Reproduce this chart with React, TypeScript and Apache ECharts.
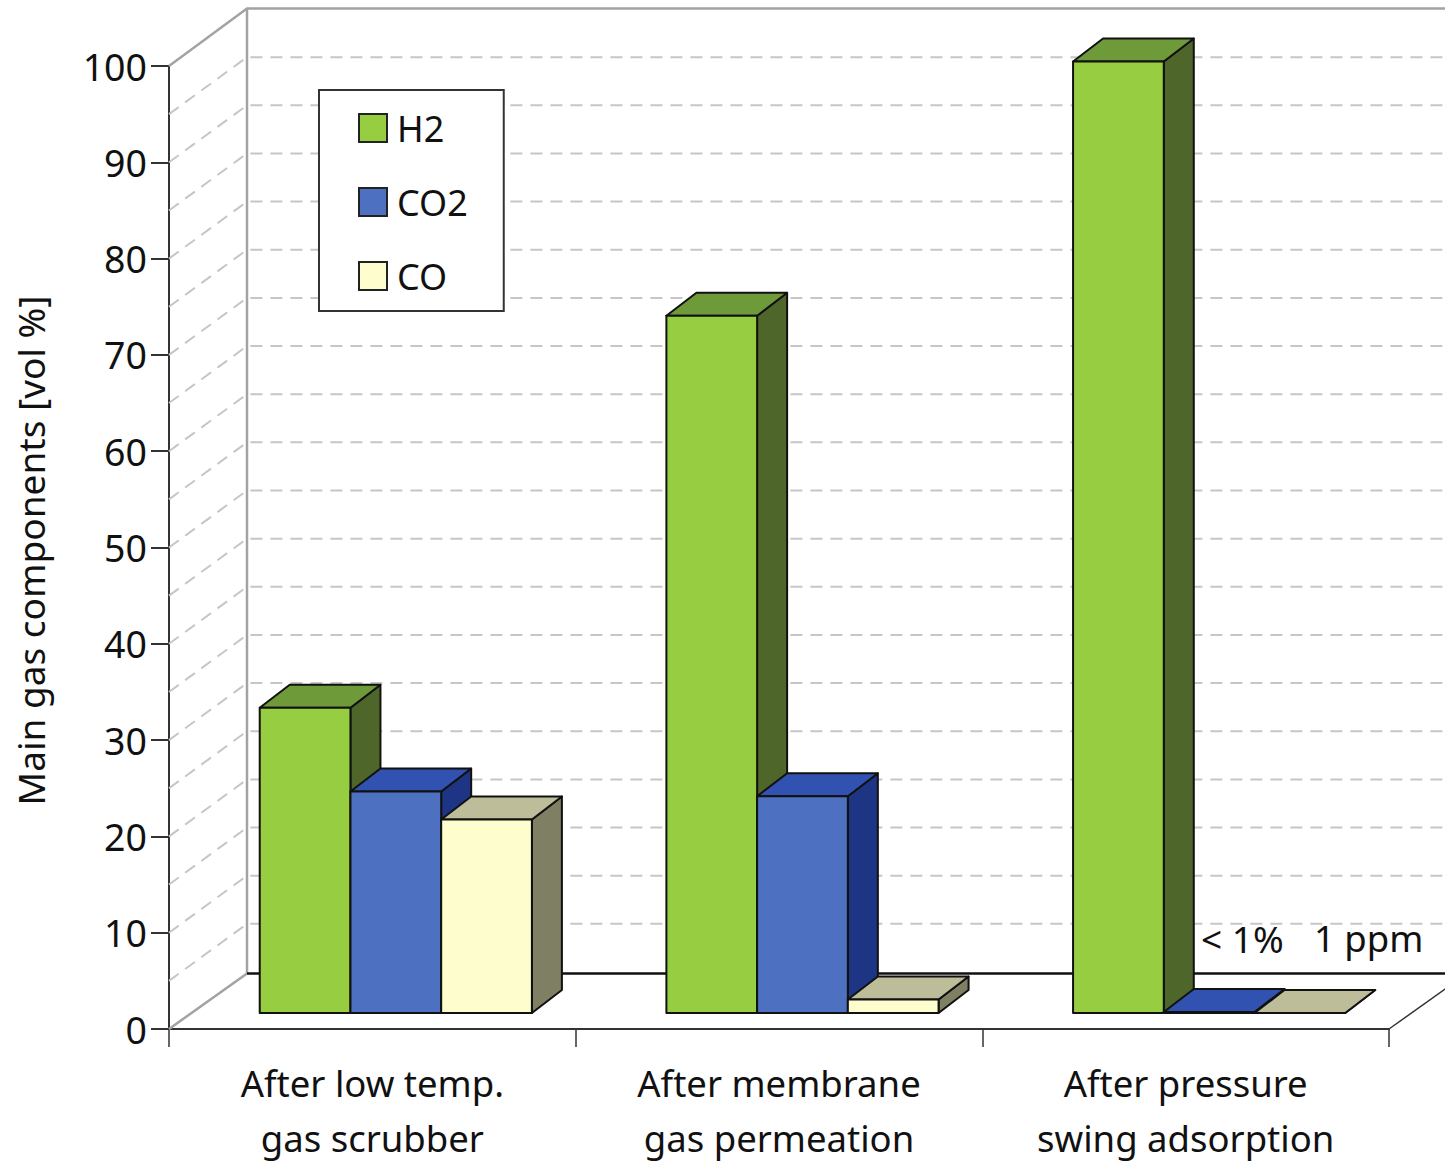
import React, { useEffect, useRef } from "react";
import * as echarts from "echarts";

const categories = ["After low temp.\ngas scrubber", "After membrane\ngas permeation", "After pressure\nswing adsorption"];
const seriesNames = ["H2", "CO2", "CO"];
const h2Values = [31.7, 72.4, 98.8];
const co2Values = [23.0, 22.5, 0.1];
const coValues = [20.1, 1.4, 0.0001];
const gridLevels = [5, 10, 15, 20, 25, 30, 35, 40, 45, 50, 55, 60, 65, 70, 75, 80, 85, 90, 95];
const frontColors = ["#97cd40", "#4d70c0", "#fdfdce"];
const sideColors = ["#4f662a", "#1d3584", "#7f7f63"];
const topColors = ["#6f9a3a", "#3152b0", "#bdbd9a"];
const annotations = ["< 1%", "1 ppm"];

const FONT = "Noto Sans";
const TEXT = "#111111";
const WALL_DX = 78;
const WALL_DY = -57;
const BACK_FLOOR_DY = -55.5;
const BAR_DX = 30;
const BAR_DY = -23;
const FLOOR_DY = -16;
const BAR_FRACTION = 90.8 / 407;

function barSeries(k: number, values: number[]) {
  return {
    type: "custom",
    name: seriesNames[k],
    itemStyle: { color: frontColors[k] },
    encode: { x: 0, y: 1 },
    z: 5 + k,
    data: values.map((v, i) => [i, v]),
    renderItem: (_: any, api: any) => {
      const band = api.size([1, 0])[0];
      const idx = api.value(0);
      const bandStart = api.coord([idx, 0])[0] - band / 2;
      const w = band * BAR_FRACTION;
      const x0 = bandStart + w * (k + 1);
      const x1 = x0 + w;
      const yb = api.coord([idx, 0])[1] + FLOOR_DY;
      const yt = api.coord([idx, api.value(1)])[1] + FLOOR_DY;
      const line = { stroke: "#111111", lineWidth: 2, lineJoin: "round" };
      return {
        type: "group",
        children: [
          {
            type: "polygon",
            shape: { points: [[x1, yb], [x1 + BAR_DX, yb + BAR_DY], [x1 + BAR_DX, yt + BAR_DY], [x1, yt]] },
            style: { fill: sideColors[k], ...line },
          },
          {
            type: "polygon",
            shape: { points: [[x0, yt], [x1, yt], [x1 + BAR_DX, yt + BAR_DY], [x0 + BAR_DX, yt + BAR_DY]] },
            style: { fill: topColors[k], ...line },
          },
          {
            type: "polygon",
            shape: { points: [[x0, yb], [x1, yb], [x1, yt], [x0, yt]] },
            style: { fill: frontColors[k], ...line },
          },
        ],
      };
    },
  };
}

const wallSeries = {
  type: "custom",
  name: "grid",
  silent: true,
  z: 1,
  encode: { x: 0, y: 1 },
  data: gridLevels.map((v) => [0, v]),
  renderItem: (params: any, api: any) => {
    const cs = params.coordSys;
    const y = api.coord([0, api.value(1)])[1];
    return {
      type: "polyline",
      shape: {
        points: [
          [cs.x, y],
          [cs.x + WALL_DX, y + WALL_DY],
          [cs.x + cs.width + WALL_DX, y + WALL_DY],
        ],
      },
      style: { fill: "none", stroke: "#c6c6c6", lineWidth: 2, lineDash: [12, 8] },
    };
  },
};

const frameSeries = {
  type: "custom",
  name: "frame",
  silent: true,
  z: 2,
  encode: { x: 0, y: 1 },
  data: [[0, 0]],
  renderItem: (params: any) => {
    const cs = params.coordSys;
    const l = cs.x;
    const r = cs.x + cs.width;
    const t = cs.y;
    const b = cs.y + cs.height;
    const gray = { fill: "none", stroke: "#a3a3a3", lineWidth: 2.5 };
    return {
      type: "group",
      children: [
        {
          type: "polyline",
          shape: { points: [[l, t], [l + WALL_DX, t + WALL_DY - 0.5], [r + WALL_DX, t + WALL_DY - 0.5]] },
          style: gray,
        },
        {
          type: "polyline",
          shape: { points: [[l + WALL_DX, t + WALL_DY - 0.5], [l + WALL_DX, b + BACK_FLOOR_DY]] },
          style: gray,
        },
        {
          type: "polyline",
          shape: { points: [[l, b], [l + WALL_DX, b + BACK_FLOOR_DY]] },
          style: gray,
        },
        {
          type: "polyline",
          shape: { points: [[l + WALL_DX, b + BACK_FLOOR_DY], [r + WALL_DX, b + BACK_FLOOR_DY]] },
          style: { fill: "none", stroke: "#111111", lineWidth: 2.5 },
        },
        {
          type: "polyline",
          shape: { points: [[r, b], [r + WALL_DX, b + BACK_FLOOR_DY]] },
          style: { fill: "none", stroke: "#333333", lineWidth: 1.5 },
        },
      ],
    };
  },
};

export default function App() {
  const ref = useRef<HTMLDivElement>(null);
  useEffect(() => {
    const chart = echarts.init(ref.current!, undefined, { renderer: "svg" });
    chart.setOption({
      animation: false,
      backgroundColor: "#ffffff",
      grid: { left: 169, right: 56, top: 66, bottom: 135, containLabel: false, outerBoundsMode: "none" },
      legend: {
        data: seriesNames,
        orient: "vertical",
        left: 319,
        top: 90,
        selectedMode: false,
        backgroundColor: "#ffffff",
        borderColor: "#333333",
        borderWidth: 2,
        borderRadius: 0,
        padding: [20, 36, 17, 39],
        itemGap: 38,
        itemWidth: 28,
        itemHeight: 28,
        icon: "rect",
        itemStyle: { borderColor: "#222222", borderWidth: 2 },
        textStyle: { fontFamily: FONT, fontSize: 36, color: TEXT, padding: [0, 0, 6, 5] },
        z: 20,
      },
      xAxis: {
        type: "category",
        data: categories,
        boundaryGap: true,
        axisLine: { lineStyle: { color: "#333333", width: 2 } },
        axisTick: { show: true, alignWithLabel: false, length: 18, lineStyle: { color: "#333333", width: 1.5 } },
        axisLabel: {
          interval: 0,
          margin: 26,
          fontFamily: FONT,
          fontSize: 36.5,
          color: TEXT,
          lineHeight: 55,
        },
      },
      yAxis: {
        type: "value",
        min: 0,
        max: 100,
        interval: 10,
        name: "Main gas components [vol %]",
        nameLocation: "middle",
        nameGap: 120,
        nameTextStyle: { fontFamily: FONT, fontSize: 37, color: TEXT, padding: [0, 6, 0, 0] },
        splitLine: { show: false },
        axisLine: { show: true, lineStyle: { color: "#333333", width: 2 } },
        axisTick: { show: true, length: 18, lineStyle: { color: "#333333", width: 2 } },
        axisLabel: { margin: 22, fontFamily: FONT, fontSize: 37.5, color: TEXT },
      },
      graphic: [
        { type: "text", x: 1201, y: 938, z: 30, style: { text: annotations[0], fontFamily: FONT, fontSize: 37, fill: TEXT, verticalAlign: "middle" } },
        { type: "text", x: 1314, y: 938, z: 30, style: { text: annotations[1], fontFamily: FONT, fontSize: 36.5, fill: TEXT, verticalAlign: "middle" } },
      ],
      series: [
        wallSeries,
        frameSeries,
        barSeries(0, h2Values),
        barSeries(1, co2Values),
        barSeries(2, coValues),
      ],
    });
    return () => chart.dispose();
  }, []);
  return <div ref={ref} style={{ position: "absolute", left: 0, top: 0, width: 1445, height: 1164 }} />;
}
